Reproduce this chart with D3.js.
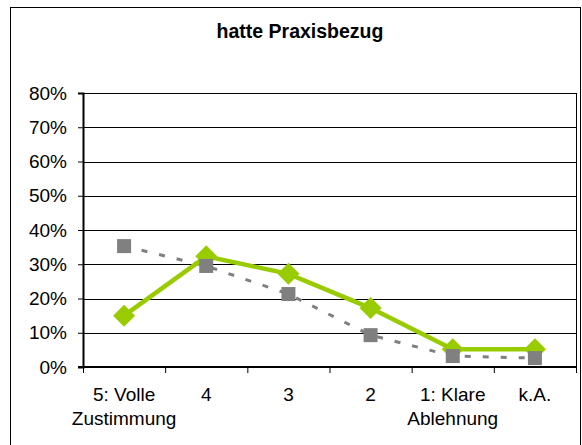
<!DOCTYPE html>
<html><head><meta charset="utf-8">
<script src="https://cdn.jsdelivr.net/npm/d3@7"></script>
<style>body{margin:0;background:#fff}svg{display:block}text{font-family:"Liberation Sans",Arial,sans-serif;fill:#000}</style>
</head><body>
<svg id="c" width="582" height="445"></svg>
<script>
const categories = ["5: Volle\nZustimmung", "4", "3", "2", "1: Klare\nAblehnung", "k.A."];
const seriesGreen = [15, 32.3, 27.2, 17.2, 5.2, 5.2];
const seriesGray = [35.3, 29.5, 21.3, 9.3, 3.2, 2.6];
const yTicks = [0, 10, 20, 30, 40, 50, 60, 70, 80];
const title = "hatte Praxisbezug";

const svg = d3.select("#c");
const L = 83, R = 576, T = 93, B = 367;
svg.append("rect").attr("x", 10.5).attr("y", 7.5).attr("width", 570).attr("height", 445)
  .attr("fill", "#fff").attr("stroke", "#000").attr("stroke-width", 1);

svg.append("text").attr("x", 300).attr("y", 38).attr("text-anchor", "middle")
  .attr("font-weight", "bold").attr("font-size", 19.5).text(title);

const x = d3.scaleBand().domain(d3.range(categories.length)).range([L, R]);
const y = d3.scaleLinear().domain([0, 80]).range([B, T]);

// gridlines
svg.append("g").selectAll("line").data(yTicks.slice(1)).join("line")
  .attr("x1", L).attr("x2", R).attr("y1", d => Math.round(y(d)) + 0.5).attr("y2", d => Math.round(y(d)) + 0.5)
  .attr("stroke", "#000").attr("stroke-width", 1);
// right border
svg.append("line").attr("x1", R + 0.5).attr("x2", R + 0.5).attr("y1", T).attr("y2", B).attr("stroke", "#000");

// y axis
const yAxis = d3.axisLeft(y).tickValues(yTicks).tickFormat(d => d + "%").tickSize(5).tickPadding(11);
const gy = svg.append("g").attr("transform", `translate(${L},0)`).call(yAxis);
gy.select(".domain").attr("stroke-width", 2);
gy.selectAll("text").attr("font-size", 19).style("font-family", '"Liberation Sans",Arial,sans-serif');

// x axis
const gx = svg.append("g").attr("transform", `translate(0,${B})`);
gx.append("line").attr("x1", L - 5).attr("x2", R + 1).attr("y1", 0).attr("y2", 0).attr("stroke", "#000").attr("stroke-width", 2);
gx.selectAll("line.t").data(d3.range(categories.length + 1)).join("line").attr("class", "t")
  .attr("x1", d => (d < categories.length ? x(d) : R) + 0.5).attr("x2", d => (d < categories.length ? x(d) : R) + 0.5)
  .attr("y1", 0).attr("y2", 6).attr("stroke", "#000");
gx.selectAll("text").data(categories).join("text")
  .attr("text-anchor", "middle").attr("font-size", 19)
  .each(function(d, i) {
    const lines = d.split("\n");
    d3.select(this).selectAll("tspan").data(lines).join("tspan")
      .attr("x", x(i) + x.bandwidth() / 2).attr("y", (l, j) => 34 + j * 23.5).text(l => l);
  });

const cx = i => x(i) + x.bandwidth() / 2;
const line = d3.line().x((d, i) => cx(i)).y(d => y(d));

// gray dashed series
svg.append("path").attr("d", line(seriesGray)).attr("fill", "none")
  .attr("stroke", "#808080").attr("stroke-width", 3).attr("stroke-dasharray", "6,12");
// green series
svg.append("path").attr("d", line(seriesGreen)).attr("fill", "none")
  .attr("stroke", "#99CC00").attr("stroke-width", 4.5);
// green diamonds
svg.append("g").selectAll("path").data(seriesGreen).join("path")
  .attr("d", (d, i) => { const px = cx(i), py = y(d), r = 11; return `M${px},${py - r}L${px + r},${py}L${px},${py + r}L${px - r},${py}Z`; })
  .attr("fill", "#99CC00");
// gray squares
svg.append("g").selectAll("rect").data(seriesGray).join("rect")
  .attr("x", (d, i) => cx(i) - 7).attr("y", d => y(d) - 7).attr("width", 14).attr("height", 14)
  .attr("fill", "#808080");
</script>
</body></html>
